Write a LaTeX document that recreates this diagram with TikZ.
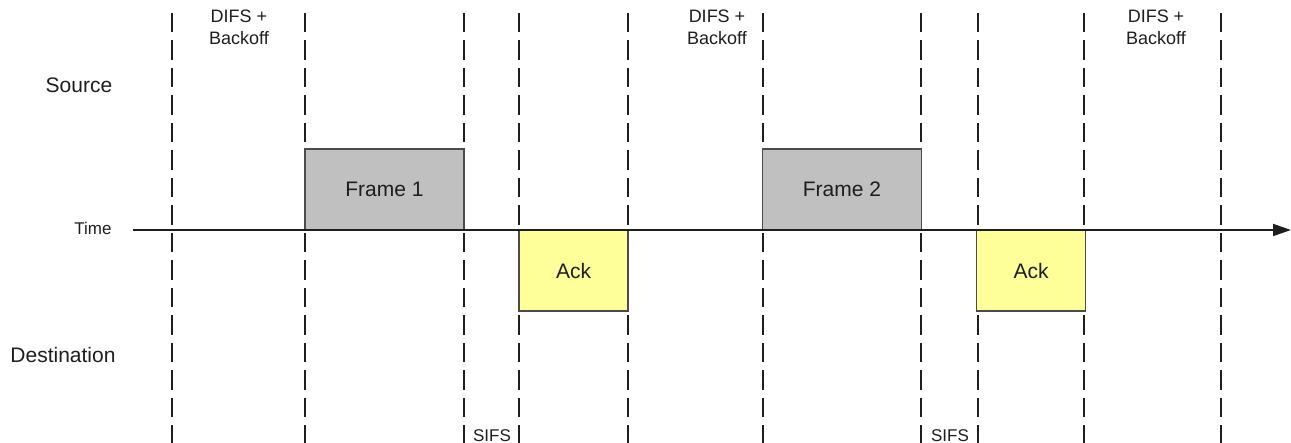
\documentclass[tikz,border=0pt]{standalone}
\usepackage{fontspec}
\setmainfont{Liberation Sans}
\usetikzlibrary{arrows.meta}
\definecolor{framegray}{HTML}{C0C0C0}
\definecolor{ackyellow}{HTML}{FFFF99}
\definecolor{ink}{HTML}{1E1E1E}
\begin{document}
\begin{tikzpicture}[x=1pt,y=-1pt,
  txt/.style={text=ink,inner sep=0pt,anchor=base},
  bigtxt/.style={txt,font=\fontsize{21}{24}\selectfont},
  midtxt/.style={txt,font=\fontsize{18}{22}\selectfont},
  smalltxt/.style={txt,font=\fontsize{17}{20}\selectfont},
  divider/.style={draw=ink,line width=2.4pt,dash pattern=on 19.5pt off 8pt},
  framebox/.style={draw=ink!80,line width=1.2pt,fill=framegray,minimum width=159pt,minimum height=81pt,inner sep=0pt,font=\fontsize{21}{24}\selectfont,text=ink},
  ackbox/.style={draw=ink!80,line width=1.2pt,fill=ackyellow,minimum width=109pt,minimum height=81pt,inner sep=0pt,font=\fontsize{21}{24}\selectfont,text=ink},
  axis/.style={draw=ink,line width=1.8pt,-{Triangle[length=18pt,width=12pt]}}
]
\useasboundingbox (0,0) rectangle (1291,443);
% dividers
\foreach \i/\x in {1/172,2/305,3/464,4/519,5/628,6/763,7/921,8/978,9/1084,10/1221}{
  \coordinate (t\i) at (\x,13);
  \coordinate (b\i) at (\x,450);
  \draw[divider] (t\i) -- (b\i);
}
% boxes
\node[framebox] (f1) at (384.5,189.5) {Frame 1};
\node[framebox] (f2) at (842,189.5) {Frame 2};
\node[ackbox] (a1) at (573.5,270.5) {Ack};
\node[ackbox] (a2) at (1031,270.5) {Ack};
% time axis
\coordinate (ts) at (133,230);
\coordinate (te) at (1291,230);
\draw[axis] (ts) -- (te);
% labels
\node[bigtxt] (src) at (79,93) {Source};
\node[smalltxt] (time) at (93,235) {Time};
\node[bigtxt] (dst) at (63,363) {Destination};
\node[midtxt,align=center,anchor=north] (d1) at (239,10) {DIFS +\\Backoff};
\node[midtxt,align=center,anchor=north] (d2) at (717,10) {DIFS +\\Backoff};
\node[midtxt,align=center,anchor=north] (d3) at (1156,10) {DIFS +\\Backoff};
\node[smalltxt] (s1) at (492,442) {SIFS};
\node[smalltxt] (s2) at (950,442) {SIFS};
\end{tikzpicture}
\end{document}
